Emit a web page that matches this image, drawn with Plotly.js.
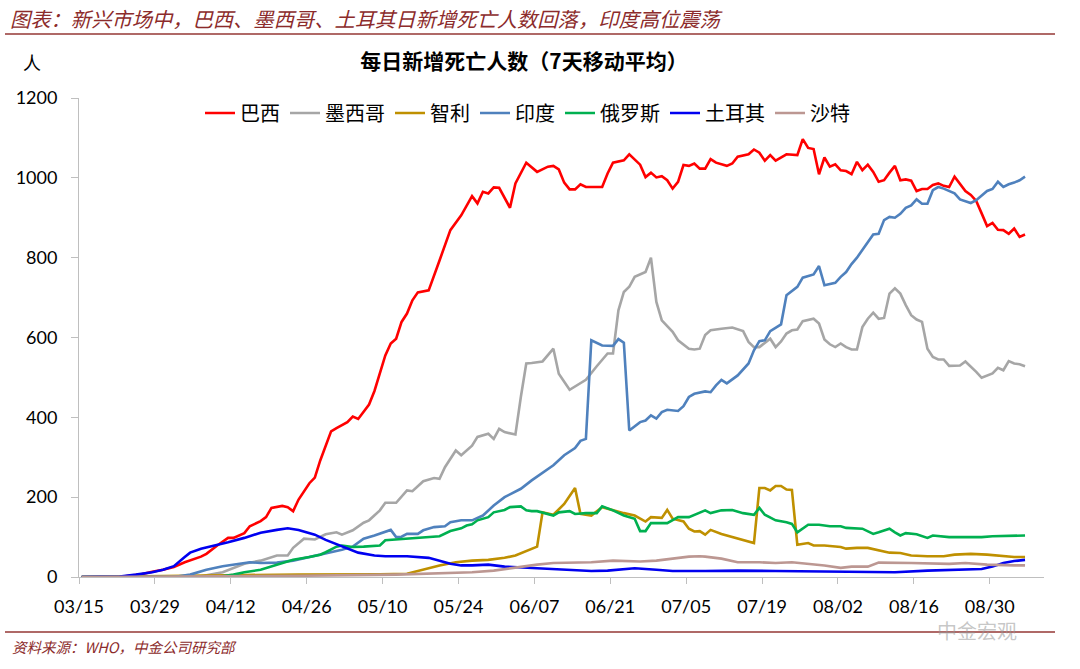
<!DOCTYPE html>
<html>
<head>
<meta charset="utf-8">
<script src="https://cdn.plot.ly/plotly-3.0.1.min.js"></script>
<style>
  html, body { margin: 0; padding: 0; background: #ffffff; }
  #chart { width: 1080px; height: 669px; }
</style>
</head>
<body>
<div id="chart"></div>
<script>
// ---------- DATA (days counted from 2020-03-15; values = daily new deaths, 7-day MA) ----------
const seriesNames = ['巴西', '墨西哥', '智利', '印度', '俄罗斯', '土耳其', '沙特'];

const brazilDays = [0,6,8,11,13,15,17,19,22,23,25,27,28,30,31,33,34,35,37,38,39,40,42,43,44,46,47,49,50,51,53,54,56,57,58,59,60,61,62,64,66,68,70,72,73,74,75,76,77,79,80,82,84,86,87,88,89,90,91,92,93,96,97,98,100,101,103,104,105,106,107,108,109,110,111,112,113,114,115,116,117,119,120,121,123,124,125,126,127,128,130,132,133,134,135,136,137,138,139,140,141,142,143,144,145,146,147,148,149,150,151,152,153,154,155,156,157,158,159,160,161,162,163,164,165,166,167,168,169,170,171,172,173,174];
const brazilVals = [0,0,2,7,13,18,25,37,51,58,79,98,98,110,127,140,150,173,178,175,165,194,235,249,292,365,373,388,402,396,432,466,555,585,597,639,660,693,713,718,793,869,906,954,936,965,961,976,975,925,986,1038,1015,1028,1030,1021,988,971,971,984,977,977,1011,1038,1044,1059,1033,1002,1013,1001,1004,994,973,990,1032,1030,1036,1023,1023,1047,1038,1030,1036,1053,1059,1071,1063,1043,1057,1043,1059,1057,1097,1075,1072,1009,1051,1028,1034,1019,1017,1009,1040,1019,1033,1015,990,994,1013,1030,994,996,993,967,972,972,982,986,980,977,1003,984,967,957,942,911,879,887,870,869,860,873,852,858];

const mexicoDays = [0,22,26,30,33,35,36,38,39,41,43,45,47,48,50,52,53,55,56,58,60,61,63,65,66,67,69,70,72,73,75,76,77,78,80,81,82,83,85,87,88,90,93,95,97,98,99,100,101,102,104,105,106,107,109,110,112,113,114,115,116,118,120,122,123,124,125,127,128,129,130,131,132,133,135,136,137,138,139,140,141,142,143,144,145,146,147,148,149,150,151,152,153,154,155,156,157,158,159,160,161,162,163,164,165,166,167,168,169,170,171,172,173,174];
const mexicoVals = [0,2,12,33,41,50,54,54,73,96,94,107,112,106,117,136,142,167,186,186,217,215,240,248,246,275,317,305,329,351,359,346,371,363,357,451,535,536,540,572,509,469,494,528,560,560,668,714,727,752,764,800,689,643,614,593,572,570,572,606,618,622,625,616,589,576,576,597,576,590,610,618,620,641,647,635,595,583,576,585,576,570,570,626,647,662,647,649,710,723,710,681,656,645,639,572,551,545,545,529,529,530,540,528,514,499,505,510,524,518,541,535,533,528];

const chileDays = [0,10,20,30,40,50,55,60,63,66,69,72,75,78,80,82,84,85,87,89,91,92,94,96,98,100,102,104,105,107,108,109,111,112,113,114,115,116,118,120,122,124,125,126,127,128,129,130,131,132,134,135,137,140,141,143,145,147,149,151,153,156,159,161,164,167,169,172,174];
const chileVals = [0,2,4,5,6,6,7,8,18,29,37,41,43,48,54,66,76,162,156,183,223,158,154,175,167,160,154,139,150,148,168,146,139,121,114,115,106,118,108,100,93,85,223,223,217,228,228,219,218,81,85,79,79,75,71,73,73,67,61,60,54,52,52,56,58,56,54,50,50];

const indiaDays = [0,17,20,23,26,28,31,33,36,39,42,45,48,50,52,54,57,58,59,60,62,63,65,67,68,70,72,74,76,78,81,83,84,87,89,91,92,93,94,96,98,99,100,101,103,104,105,106,107,108,110,111,112,113,115,116,117,118,119,121,123,124,125,126,127,129,130,131,132,133,135,136,137,139,140,141,142,143,144,145,146,147,148,149,150,151,152,153,154,155,156,157,158,159,160,161,162,163,164,165,166,167,168,169,170,171,172,173,174];
const indiaVals = [0,0,6,18,27,31,37,35,36,41,50,58,68,76,96,104,118,100,101,108,108,117,125,127,137,142,142,154,179,200,221,242,252,280,305,323,341,346,593,580,579,596,587,367,388,392,405,397,413,419,416,428,451,459,465,463,480,494,485,505,535,568,591,593,616,633,706,717,727,750,758,779,731,737,752,764,784,800,819,836,858,860,894,902,900,910,925,931,946,935,935,969,977,973,967,961,946,942,937,944,956,967,972,990,977,984,988,994,1003];

const russiaDays = [0,25,28,30,33,36,39,42,44,45,47,48,50,52,55,56,58,61,64,66,68,70,71,72,73,75,76,78,79,81,82,83,84,87,88,90,91,93,95,96,98,100,102,103,104,105,108,110,112,115,116,118,120,122,124,125,126,128,130,131,132,134,136,138,140,141,144,146,147,149,150,151,152,154,156,157,160,163,166,168,172,174];
const russiaVals = [0,0,6,12,18,31,43,50,56,62,76,79,75,76,79,92,94,98,100,102,115,122,129,132,142,150,162,168,175,177,167,165,165,154,162,165,158,160,160,177,167,154,146,115,115,135,135,150,150,167,160,167,168,160,156,173,156,142,137,133,112,131,131,127,127,123,121,108,112,121,112,104,110,107,98,104,100,100,100,102,104,104];

const turkeyDays = [0,6,7,10,13,15,17,19,20,22,24,27,30,33,36,38,40,43,45,48,51,54,56,60,64,66,68,70,72,75,78,84,91,94,97,102,106,109,115,121,128,134,138,150,156,163,166,168,170,172,174];
const turkeyVals = [0,0,1,6,12,18,27,50,61,71,77,87,98,111,118,122,118,106,93,76,61,54,52,52,48,41,33,29,29,31,26,22,16,15,16,22,18,15,15,16,15,14,15,12,16,20,20,26,35,40,43];

const saudiDays = [0,20,40,58,66,72,76,81,84,87,94,98,103,106,109,112,114,115,118,121,125,128,131,134,137,140,142,145,147,153,160,163,167,172,174];
const saudiVals = [0,1,3,6,10,12,16,26,31,35,37,41,39,41,46,51,52,51,46,37,37,35,37,33,29,23,26,26,36,35,33,35,31,29,29];

const yTicks = [0, 200, 400, 600, 800, 1000, 1200];

// ---------- HELPERS ----------
const START = Date.UTC(2020, 2, 15);
const DAY = 864e5;
// Each daily value is plotted at the middle of its day (category-style date axis)
function dayToDate(d) { return new Date(START + (d + 0.5) * DAY).toISOString().slice(0, 16).replace('T', ' '); }
function edgeDate(d) { return new Date(START + d * DAY).toISOString().slice(0, 10); }

const colors = ['#FF0000', '#A6A6A6', '#BF9000', '#4F81BD', '#00B050', '#0000F0', '#BC9792'];
const allDays = [brazilDays, mexicoDays, chileDays, indiaDays, russiaDays, turkeyDays, saudiDays];
const allVals = [brazilVals, mexicoVals, chileVals, indiaVals, russiaVals, turkeyVals, saudiVals];

const traces = seriesNames.map((name, i) => ({
  type: 'scatter',
  mode: 'lines',
  name: name,
  x: allDays[i].map(dayToDate),
  y: allVals[i],
  line: { color: colors[i], width: 2.6 },
  hoverinfo: 'x+y+name'
}));

// ---------- LAYOUT ----------
const W = 1080, H = 669, L = 79, R = 36, T = 98, B = 92;
const pw = W - L - R, ph = H - T - B;
const px2x = px => (px - L) / pw;
const py2y = py => (H - B - py) / ph;
const darkRed = '#8C2B2B';
const cjk = '"Noto Sans CJK SC", "Noto Sans", sans-serif';
const num = 'Lato, "Open Sans", sans-serif';

const layout = {
  width: W, height: H,
  margin: { l: L, r: R, t: T, b: B, pad: 0 },
  paper_bgcolor: '#ffffff',
  plot_bgcolor: '#ffffff',
  showlegend: true,
  title: {
    text: '<b>每日新增死亡人数（7天移动平均）</b>',
    xref: 'container', yref: 'container',
    x: 524 / W, xanchor: 'center',
    y: 1 - 62 / H, yanchor: 'middle',
    font: { family: cjk, size: 21, color: '#000000' }
  },
  legend: {
    orientation: 'h',
    xref: 'paper', yref: 'paper',
    x: px2x(200), xanchor: 'left',
    y: py2y(113), yanchor: 'middle',
    font: { family: cjk, size: 20, color: '#000000' },
    bgcolor: 'rgba(0,0,0,0)',
    itemwidth: 30,
    traceorder: 'normal'
  },
  xaxis: {
    type: 'date',
    range: [edgeDate(0), edgeDate(178)],
    tick0: edgeDate(0),
    dtick: 14 * DAY,
    tickformat: '%m/%d',
    ticks: 'outside', ticklen: 6, tickcolor: '#BFBFBF', tickwidth: 1,
    showline: true, linecolor: '#BFBFBF', linewidth: 1,
    showgrid: false, zeroline: false,
    tickfont: { family: num, size: 18, color: '#000000' },
    ticklabelstandoff: 7,
    fixedrange: true
  },
  yaxis: {
    range: [0, 1200],
    tickvals: yTicks,
    ticktext: yTicks.map(String),
    ticks: 'outside', ticklen: 7, tickcolor: '#BFBFBF', tickwidth: 1,
    showline: true, linecolor: '#BFBFBF', linewidth: 1,
    showgrid: false, zeroline: false,
    tickfont: { family: num, size: 18, color: '#000000' },
    ticklabelstandoff: 10,
    fixedrange: true
  },
  shapes: [
    { type: 'line', xref: 'paper', yref: 'paper', x0: px2x(5), x1: px2x(1055), y0: py2y(34), y1: py2y(34),
      line: { color: '#953735', width: 1.5 } },
    { type: 'line', xref: 'paper', yref: 'paper', x0: px2x(5), x1: px2x(1055), y0: py2y(632), y1: py2y(632),
      line: { color: '#953735', width: 1.5 } }
  ],
  annotations: [
    { xref: 'paper', yref: 'paper', x: px2x(8), y: py2y(18), xanchor: 'left', yanchor: 'middle', showarrow: false,
      text: '<i>图表：新兴市场中，巴西、墨西哥、土耳其日新增死亡人数回落，印度高位震荡</i>',
      font: { family: cjk, size: 20.3, color: darkRed } },
    { xref: 'paper', yref: 'paper', x: px2x(32), y: py2y(62), xanchor: 'center', yanchor: 'middle', showarrow: false,
      text: '人', font: { family: cjk, size: 18, color: '#000000' } },
    { xref: 'paper', yref: 'paper', x: px2x(10), y: py2y(646), xanchor: 'left', yanchor: 'middle', showarrow: false,
      text: '<i>资料来源：WHO，中金公司研究部</i>', font: { family: cjk, size: 14.5, color: darkRed } },
    { xref: 'paper', yref: 'paper', x: px2x(977), y: py2y(630), xanchor: 'center', yanchor: 'middle', showarrow: false,
      text: '中金宏观', font: { family: cjk, size: 20, color: 'rgba(150,150,150,0.55)' } }
  ]
};

Plotly.newPlot('chart', traces, layout, { displayModeBar: false, responsive: false });
</script>
</body>
</html>
